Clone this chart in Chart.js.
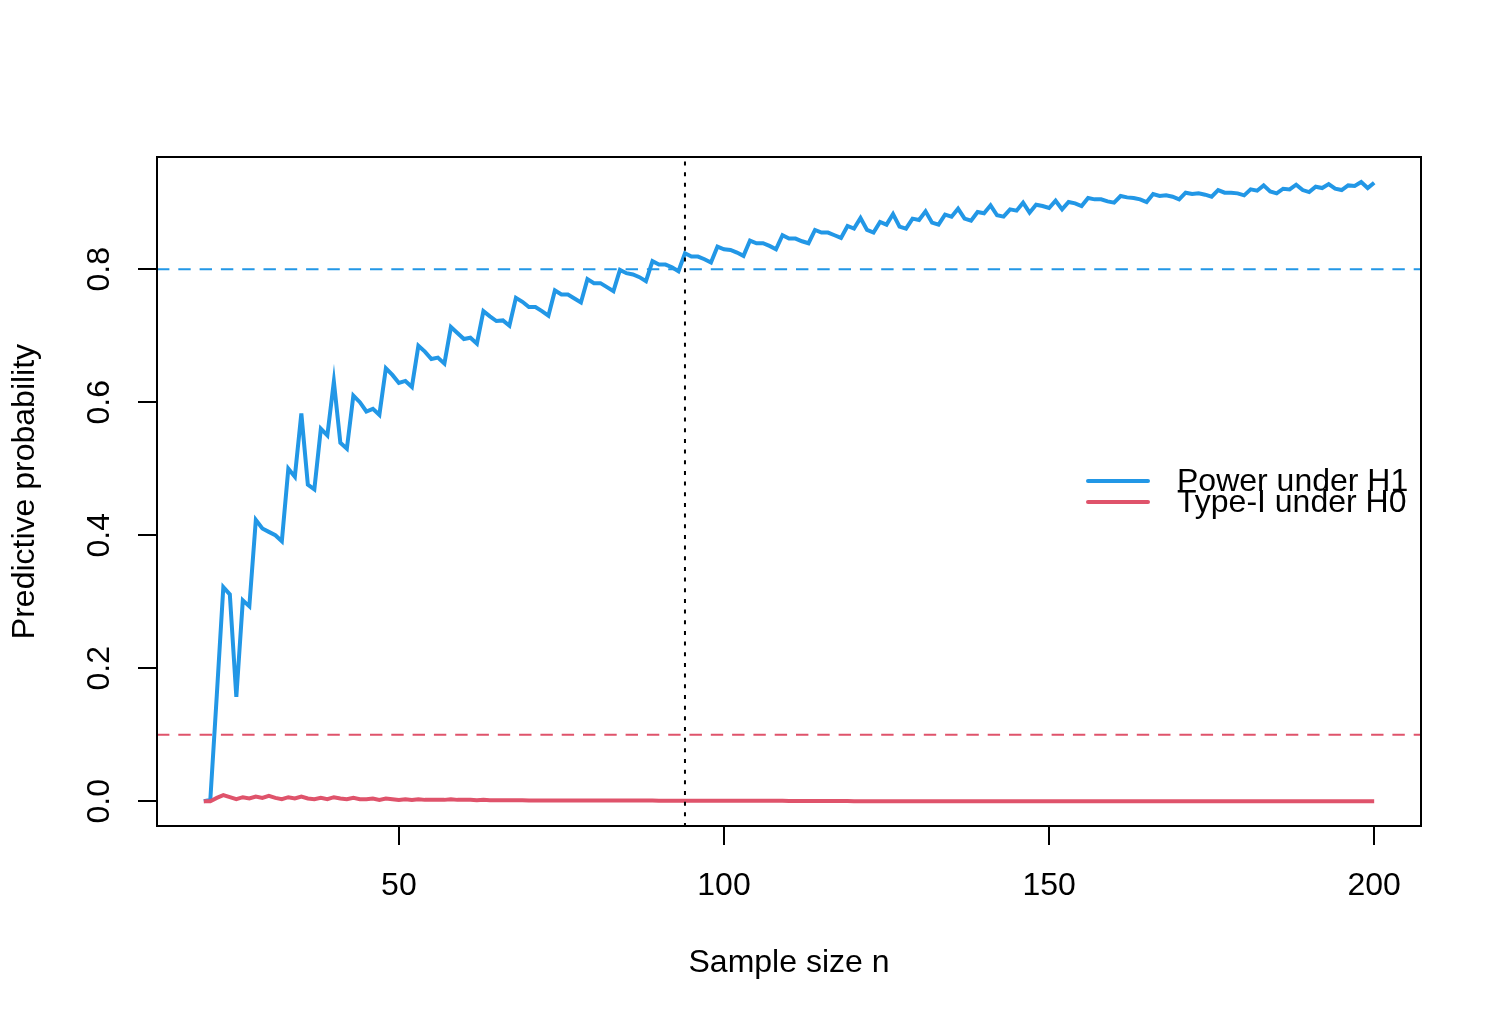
<!DOCTYPE html>
<html>
<head>
<meta charset="utf-8">
<title>Predictive probability vs sample size</title>
<script src="https://cdn.jsdelivr.net/npm/chart.js@4/dist/chart.umd.min.js"></script>
<style>
  html, body { margin: 0; padding: 0; background: #fff; }
  #wrap { width: 1502px; height: 1022px; }
</style>
</head>
<body>
<div id="wrap"><canvas id="powerChart" width="1502" height="1022"></canvas></div>
<script>
// Data
const sampleSizes = [
  20, 21, 22, 23, 24, 25, 26, 27, 28, 29,
  30, 31, 32, 33, 34, 35, 36, 37, 38, 39,
  40, 41, 42, 43, 44, 45, 46, 47, 48, 49,
  50, 51, 52, 53, 54, 55, 56, 57, 58, 59,
  60, 61, 62, 63, 64, 65, 66, 67, 68, 69,
  70, 71, 72, 73, 74, 75, 76, 77, 78, 79,
  80, 81, 82, 83, 84, 85, 86, 87, 88, 89,
  90, 91, 92, 93, 94, 95, 96, 97, 98, 99,
  100, 101, 102, 103, 104, 105, 106, 107, 108, 109,
  110, 111, 112, 113, 114, 115, 116, 117, 118, 119,
  120, 121, 122, 123, 124, 125, 126, 127, 128, 129,
  130, 131, 132, 133, 134, 135, 136, 137, 138, 139,
  140, 141, 142, 143, 144, 145, 146, 147, 148, 149,
  150, 151, 152, 153, 154, 155, 156, 157, 158, 159,
  160, 161, 162, 163, 164, 165, 166, 167, 168, 169,
  170, 171, 172, 173, 174, 175, 176, 177, 178, 179,
  180, 181, 182, 183, 184, 185, 186, 187, 188, 189,
  190, 191, 192, 193, 194, 195, 196, 197, 198, 199,
  200
];

const powerH1 = [
  0.000, 0.002, 0.160, 0.322, 0.311, 0.157, 0.302, 0.293, 0.423, 0.410,
  0.405, 0.400, 0.391, 0.500, 0.488, 0.583, 0.476, 0.469, 0.560, 0.550,
  0.631, 0.539, 0.530, 0.610, 0.600, 0.586, 0.590, 0.581, 0.651, 0.641,
  0.629, 0.632, 0.623, 0.685, 0.676, 0.665, 0.667, 0.658, 0.713, 0.704,
  0.695, 0.697, 0.688, 0.737, 0.729, 0.722, 0.723, 0.715, 0.757, 0.751,
  0.743, 0.743, 0.737, 0.730, 0.768, 0.762, 0.762, 0.756, 0.750, 0.785,
  0.779, 0.779, 0.773, 0.767, 0.799, 0.794, 0.792, 0.788, 0.782, 0.812,
  0.807, 0.807, 0.803, 0.797, 0.824, 0.819, 0.819, 0.815, 0.810, 0.834,
  0.830, 0.829, 0.825, 0.820, 0.843, 0.839, 0.839, 0.835, 0.830, 0.851,
  0.846, 0.846, 0.842, 0.839, 0.859, 0.855, 0.855, 0.851, 0.847, 0.865,
  0.861, 0.877, 0.859, 0.855, 0.871, 0.867, 0.883, 0.864, 0.861, 0.876,
  0.874, 0.887, 0.870, 0.867, 0.882, 0.879, 0.891, 0.876, 0.873, 0.886,
  0.884, 0.896, 0.881, 0.879, 0.890, 0.888, 0.900, 0.885, 0.897, 0.895,
  0.892, 0.903, 0.890, 0.901, 0.899, 0.895, 0.907, 0.905, 0.905, 0.902,
  0.900, 0.910, 0.908, 0.907, 0.905, 0.901, 0.913, 0.910, 0.911, 0.909,
  0.905, 0.915, 0.913, 0.914, 0.912, 0.909, 0.919, 0.915, 0.915, 0.914,
  0.911, 0.920, 0.918, 0.926, 0.917, 0.914, 0.921, 0.920, 0.927, 0.919,
  0.916, 0.924, 0.922, 0.928, 0.921, 0.919, 0.926, 0.925, 0.931, 0.922,
  0.930
];

const typeIH0 = [
  0.000, 0.000, 0.005, 0.009, 0.006, 0.003, 0.006, 0.004, 0.007, 0.005,
  0.008, 0.005, 0.003, 0.006, 0.004, 0.007, 0.004, 0.003, 0.005, 0.003,
  0.006, 0.004, 0.003, 0.005, 0.003, 0.003, 0.004, 0.002, 0.004, 0.003,
  0.002, 0.003, 0.002, 0.003, 0.002, 0.002, 0.002, 0.002, 0.003, 0.002,
  0.002, 0.002, 0.0015, 0.002, 0.0015, 0.0015, 0.0015, 0.0015, 0.0015, 0.0015,
  0.001, 0.001, 0.001, 0.001, 0.001, 0.001, 0.001, 0.001, 0.001, 0.001,
  0.001, 0.001, 0.001, 0.001, 0.001, 0.001, 0.001, 0.001, 0.001, 0.001,
  0.0008, 0.0008, 0.0008, 0.0008, 0.0008, 0.0008, 0.0008, 0.0008, 0.0008, 0.0008,
  0.0005, 0.0005, 0.0005, 0.0005, 0.0005, 0.0005, 0.0005, 0.0005, 0.0005, 0.0005,
  0.0003, 0.0003, 0.0003, 0.0003, 0.0003, 0.0003, 0.0003, 0.0003, 0.0003, 0.0003,
  0.000, 0.000, 0.000, 0.000, 0.000, 0.000, 0.000, 0.000, 0.000, 0.000,
  0.000, 0.000, 0.000, 0.000, 0.000, 0.000, 0.000, 0.000, 0.000, 0.000,
  0.000, 0.000, 0.000, 0.000, 0.000, 0.000, 0.000, 0.000, 0.000, 0.000,
  0.000, 0.000, 0.000, 0.000, 0.000, 0.000, 0.000, 0.000, 0.000, 0.000,
  0.000, 0.000, 0.000, 0.000, 0.000, 0.000, 0.000, 0.000, 0.000, 0.000,
  0.000, 0.000, 0.000, 0.000, 0.000, 0.000, 0.000, 0.000, 0.000, 0.000,
  0.000, 0.000, 0.000, 0.000, 0.000, 0.000, 0.000, 0.000, 0.000, 0.000,
  0.000, 0.000, 0.000, 0.000, 0.000, 0.000, 0.000, 0.000, 0.000, 0.000,
  0.000
];

const POWER_TARGET = 0.8;
const ALPHA = 0.1;
const N_CHOSEN = 94;

const xTicks = [50, 100, 150, 200];
const yTicks = [0, 0.2, 0.4, 0.6, 0.8];

const X_MIN = 12.8, X_MAX = 207.2;
const Y_MIN = -0.0373, Y_MAX = 0.9687;

// Colours (R 4 default palette)
const BLUE = '#2297E6';
const RED = '#DF536B';
const FONT = "'Liberation Sans', Arial, Helvetica, sans-serif";
const FONT_SIZE = 32;

const toPoints = ys => sampleSizes.map((n, i) => ({ x: n, y: ys[i] }));

// Box around the plot region + R-style legend
const frameAndLegend = {
  id: 'frameAndLegend',
  afterDraw(chart) {
    const { ctx, chartArea: a } = chart;
    ctx.save();
    ctx.strokeStyle = '#000';
    ctx.lineWidth = 2;
    ctx.strokeRect(a.left, a.top, a.right - a.left, a.bottom - a.top);

    const midY = (a.top + a.bottom) / 2;
    const items = [
      { text: 'Power under H1', color: BLUE, y: midY - 10.5 },
      { text: 'Type-I under H0', color: RED, y: midY + 10.5 }
    ];
    ctx.font = `${FONT_SIZE}px ${FONT}`;
    ctx.textBaseline = 'middle';
    ctx.textAlign = 'left';
    items.forEach(it => {
      ctx.strokeStyle = it.color;
      ctx.lineWidth = 4;
      ctx.lineCap = 'round';
      ctx.beginPath();
      ctx.moveTo(a.right - 333, it.y);
      ctx.lineTo(a.right - 273, it.y);
      ctx.stroke();
      ctx.fillStyle = '#000';
      ctx.fillText(it.text, a.right - 244, it.y + 1);
    });
    ctx.restore();
  }
};

const ctx = document.getElementById('powerChart').getContext('2d');
new Chart(ctx, {
  type: 'line',
  data: {
    datasets: [
      {
        label: 'Power under H1',
        data: toPoints(powerH1),
        borderColor: BLUE,
        borderWidth: 4,
        pointRadius: 0,
        tension: 0,
        order: 5
      },
      {
        label: 'Type-I under H0',
        data: toPoints(typeIH0),
        borderColor: RED,
        borderWidth: 4,
        pointRadius: 0,
        tension: 0,
        order: 4
      },
      {
        label: 'power target',
        data: [{ x: X_MIN, y: POWER_TARGET }, { x: X_MAX, y: POWER_TARGET }],
        borderColor: BLUE,
        borderWidth: 2,
        borderDash: [12.4, 8.9],
        pointRadius: 0,
        order: 3
      },
      {
        label: 'alpha',
        data: [{ x: X_MIN, y: ALPHA }, { x: X_MAX, y: ALPHA }],
        borderColor: RED,
        borderWidth: 2,
        borderDash: [12.4, 8.9],
        pointRadius: 0,
        order: 2
      },
      {
        label: 'chosen n',
        data: [{ x: N_CHOSEN, y: Y_MIN }, { x: N_CHOSEN, y: Y_MAX }],
        borderColor: '#000',
        borderWidth: 2,
        borderDash: [4, 6.67],
        borderDashOffset: 1,
        pointRadius: 0,
        order: 1
      }
    ]
  },
  options: {
    responsive: false,
    animation: false,
    devicePixelRatio: 1,
    layout: { padding: { top: 157, right: 81, bottom: 0, left: 0 } },
    plugins: {
      legend: { display: false },
      tooltip: { enabled: false }
    },
    scales: {
      x: {
        type: 'linear',
        position: 'bottom',
        min: X_MIN,
        max: X_MAX,
        afterBuildTicks: axis => { axis.ticks = xTicks.map(v => ({ value: v })); },
        afterFit: axis => { axis.height = 196; },
        grid: { drawOnChartArea: false, drawTicks: true, tickLength: 19, color: '#000', lineWidth: 2 },
        border: { display: false },
        ticks: {
          padding: 22,
          color: '#000',
          font: { family: FONT, size: FONT_SIZE },
          maxRotation: 0,
          callback: v => String(v)
        },
        title: {
          display: true,
          text: 'Sample size n',
          color: '#000',
          font: { family: FONT, size: FONT_SIZE },
          padding: { top: 0, bottom: 40 }
        }
      },
      y: {
        type: 'linear',
        position: 'left',
        min: Y_MIN,
        max: Y_MAX,
        afterBuildTicks: axis => { axis.ticks = yTicks.map(v => ({ value: v })); },
        afterFit: axis => { axis.width = 157; },
        grid: { drawOnChartArea: false, drawTicks: true, tickLength: 19, color: '#000', lineWidth: 2 },
        border: { display: false },
        ticks: {
          padding: 16,
          color: '#000',
          crossAlign: 'center',
          minRotation: 90,
          maxRotation: 90,
          font: { family: FONT, size: FONT_SIZE },
          callback: v => v.toFixed(1)
        },
        title: {
          display: true,
          text: 'Predictive probability',
          color: '#000',
          font: { family: FONT, size: FONT_SIZE },
          padding: { top: 6, bottom: 0 }
        }
      }
    }
  },
  plugins: [frameAndLegend]
});
</script>
</body>
</html>
